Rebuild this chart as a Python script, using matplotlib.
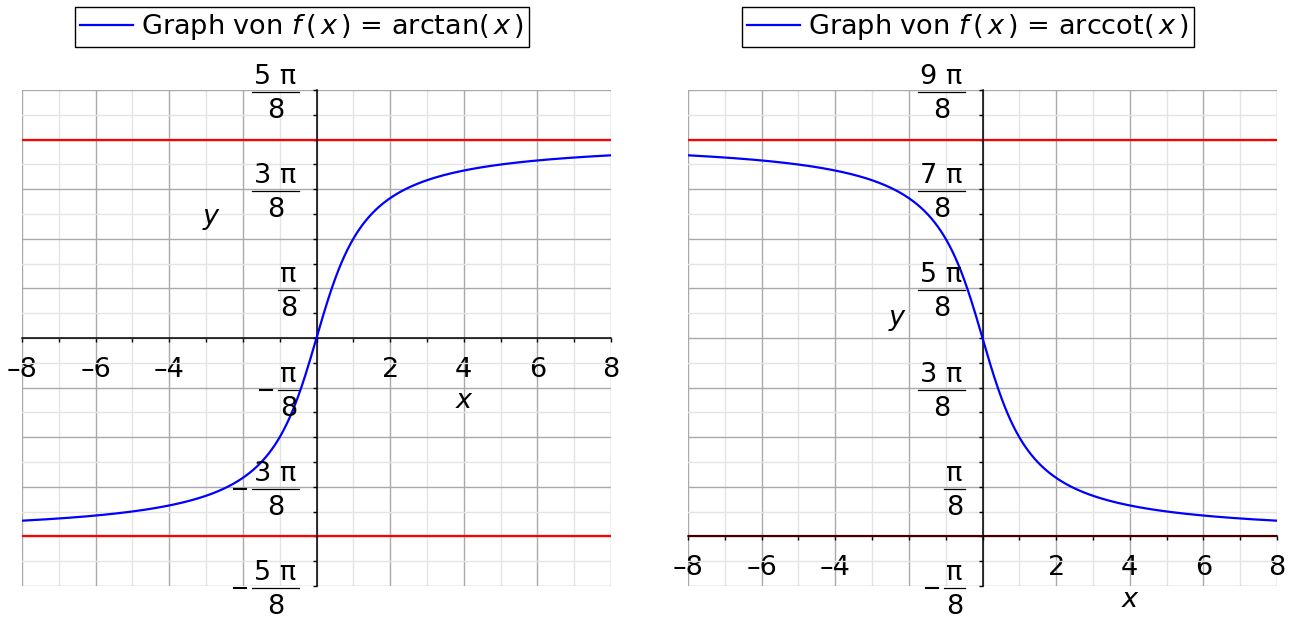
import numpy as np
import matplotlib
matplotlib.use("Agg")
import matplotlib.pyplot as plt
from matplotlib.lines import Line2D
from matplotlib.transforms import IdentityTransform

plt.rcParams['font.family'] = ['DejaVu Sans']
plt.rcParams['mathtext.fontset'] = 'custom'
plt.rcParams['mathtext.rm'] = 'DejaVu Sans'
plt.rcParams['mathtext.it'] = 'DejaVu Sans:italic'

FS = 19.5

# x range for both graphs, sampled finely for the curves
x_min, x_max = -8, 8
x_vals = np.linspace(x_min, x_max, 801)

# tick values
x_major = [-8, -6, -4, -2, 0, 2, 4, 6, 8]
x_labels = ['\u20138', '\u20136', '\u20134', '', '', '2', '4', '6', '8']

# y ticks in units of pi/8
left_yticks = [-5, -3, -1, 1, 3, 5]
right_yticks = [-1, 1, 3, 5, 7, 9]
left_ylim = (-5, 5)
right_ylim = (-1, 9)

# asymptotes
left_asym = [-np.pi / 2, np.pi / 2]
right_asym = [0, np.pi]

titles = [r'Graph von $f\,(\,x\,)$ = arctan$(\,x\,)$',
          r'Graph von $f\,(\,x\,)$ = arccot$(\,x\,)$']

BLUE = '#0000ff'
RED = '#ff0000'
P8 = np.pi / 8


def setup(ax, ylim):
    ax.set_xlim(x_min, x_max)
    ax.set_ylim(ylim[0] * P8, ylim[1] * P8)
    ax.spines['left'].set_position(('data', 0))
    ax.spines['bottom'].set_position(('data', 0))
    ax.spines['top'].set_visible(False)
    ax.spines['right'].set_visible(False)
    for s in ('left', 'bottom'):
        ax.spines[s].set_linewidth(1.1)
        ax.spines[s].set_zorder(4)

    ax.set_xticks(x_major)
    ax.set_xticklabels(x_labels)
    ax.set_xticks(np.arange(-7, 8, 2), minor=True)
    ax.set_yticks(np.arange(ylim[0], ylim[1] + 1) * P8)
    ax.set_yticklabels([])
    ax.set_yticks((np.arange(ylim[0], ylim[1]) + 0.5) * P8, minor=True)
    ax.tick_params(which='both', direction='out', length=3, width=1.0)
    ax.tick_params(axis='x', labelsize=FS, pad=10.5)
    ax.grid(which='major', color='#a9a9a9', lw=1.0, zorder=0)
    ax.grid(which='minor', color='#e4e4e4', lw=1.0, zorder=0)
    ax.set_axisbelow(True)


def frac_label(fig, ax, k, renderer):
    # stacked fraction k*pi/8 placed left of the y axis, in pixel coords
    x0, y0 = ax.transData.transform((0, k * P8))
    ybar = y0 - 2
    xr = x0 - 18
    num = 'π' if abs(k) == 1 else f'{abs(k)} π'
    t = fig.text(0, 0, num, fontsize=FS, ha='center', va='baseline',
                 transform=IdentityTransform())
    bw = t.get_window_extent(renderer).width + 4
    xc = xr - bw / 2
    t.set_position((xc, ybar + 8))
    fig.text(xc, ybar - 26, '8', fontsize=FS, ha='center', va='baseline',
             transform=IdentityTransform())
    fig.add_artist(Line2D([xr - bw, xr], [ybar, ybar], transform=IdentityTransform(),
                          color='black', lw=0.9))
    if k < 0:
        fig.add_artist(Line2D([xr - bw - 18, xr - bw - 6], [ybar, ybar],
                              transform=IdentityTransform(), color='black', lw=1.5))


fig = plt.figure(figsize=(12.93, 6.21), dpi=100)
ax1 = fig.add_axes([22 / 1293, 1 - 586 / 621, 589 / 1293, 496 / 621])
ax2 = fig.add_axes([688 / 1293, 1 - 586 / 621, 589 / 1293, 496 / 621])

setup(ax1, left_ylim)
setup(ax2, right_ylim)

for y in left_asym:
    ax1.axhline(y, color=RED, lw=1.6, zorder=2)
for y in right_asym:
    ax2.axhline(y, color=RED, lw=1.6, zorder=2)

l1, = ax1.plot(x_vals, np.arctan(x_vals), color=BLUE, lw=1.6, zorder=5)
l2, = ax2.plot(x_vals, np.pi / 2 - np.arctan(x_vals), color=BLUE, lw=1.6, zorder=5)

renderer = fig.canvas.get_renderer()
for k in left_yticks:
    frac_label(fig, ax1, k, renderer)
for k in right_yticks:
    frac_label(fig, ax2, k, renderer)

# axis names
ax1.text(-2.88, 2.44 * P8, 'y', style='italic', fontsize=FS, ha='center', va='center')
ax1.text(4.0, -1.27 * P8, 'x', style='italic', fontsize=FS, ha='center', va='center')
ax2.text(-2.34, 4.4 * P8, 'y', style='italic', fontsize=FS, ha='center', va='center')
ax2.text(4.0, -1.29 * P8, 'x', style='italic', fontsize=FS, ha='center', va='center', clip_on=False)

for line, title, cx in ((l1, titles[0], 302), (l2, titles[1], 968)):
    fig.legend([line], [title], loc='center', bbox_to_anchor=(cx / 1293, 1 - 27 / 621),
               bbox_transform=fig.transFigure, fontsize=FS, frameon=True, fancybox=False,
               edgecolor='black', framealpha=1, handlelength=1.95, borderpad=0.2,
               handletextpad=0.3, borderaxespad=0)

fig.savefig('out.png', dpi=100)
